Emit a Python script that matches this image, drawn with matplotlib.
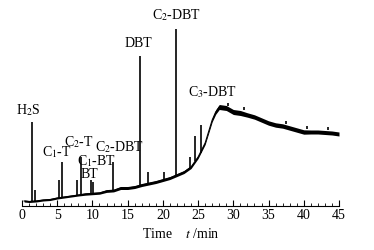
import numpy as np
import matplotlib
matplotlib.use("Agg")
import matplotlib.pyplot as plt

plt.rcParams['font.family'] = ['Liberation Serif', 'DejaVu Serif']
plt.rcParams['mathtext.fontset'] = 'stix'

# baseline of the chromatogram (time in min, signal in arbitrary units)
base_t = [0.3, 1.0, 2, 3, 4, 5, 6, 7, 8, 9, 10, 11, 12, 13, 14, 15, 16, 17, 18,
          19, 20, 21, 22, 23, 24, 25, 26, 27, 27.5, 28, 29, 30, 31, 32, 33, 34,
          35, 36, 37, 38, 39, 40, 41, 42, 43, 44, 45]
base_y = [5, 4.5, 5, 6, 6.5, 8, 9, 10, 11, 12, 12.5, 13, 15, 15.5, 18, 18, 19, 21,
          22.5, 24, 26, 28, 31, 34, 39, 49, 63, 86, 94, 99, 98, 94, 93, 91, 89, 86,
          83, 81, 80, 78, 76, 74, 74, 74, 73.5, 73, 72]
# half thickness of the noisy trace
band = [1.0, 1.0, 1.0, 1.0, 1.0, 1.0, 1.0, 1.0, 1.0, 1.2, 1.2, 1.2, 1.4, 1.4, 1.5,
        1.5, 1.5, 1.5, 1.5, 1.5, 1.5, 1.5, 1.5, 1.5, 1.5, 1.5, 1.5, 1.8, 2.2, 2.5,
        2.5, 2.5, 2.5, 2.2, 2.2, 2.2, 2.2, 2.2, 2.2, 2.2, 2.2, 2.2, 2.0, 2.0, 2.0,
        2.0, 2.0]

# peaks: retention time, baseline under the peak, peak top
peak_t = [1.4, 1.85, 5.3, 5.68, 7.77, 8.33, 9.85, 10.05, 12.9, 16.76, 17.85,
          20.2, 21.8, 23.8, 24.6, 25.4, 29.2, 31.5, 37.5, 40.5, 43.5]
peak_base = [4.5, 5, 8, 8.5, 10, 11, 12.5, 12.5, 15.5, 20.5, 22.5, 26, 30, 37,
             45, 53, 100, 96, 82, 77, 76]
peak_top = [84, 16, 26, 44, 26, 49, 26, 24, 44, 150, 34, 34, 177, 49, 70, 81,
            103, 99, 85, 80, 79]

labels = ["H$_2$S", "C$_1$-T", "C$_2$-T", "C$_2$-DBT", "C$_1$-BT", "BT", "DBT",
          "C$_2$-DBT", "C$_3$-DBT"]
label_x = [0.9, 5.0, 8.1, 13.8, 10.6, 9.5, 16.5, 22.0, 27.0]
label_y = [96, 54, 64, 59, 45, 32, 163, 191, 114]

fig = plt.figure(figsize=(3.74, 2.5), dpi=100)
ax = fig.add_axes([0.0588, 0.176, 0.8476, 0.72])

bt = np.array(base_t)
by = np.array(base_y)
bb = np.array(band)
ax.fill_between(bt, by - bb, by + bb, color='black', lw=0)
ax.plot(bt, by, color='black', lw=0.8)
ax.vlines(peak_t, peak_base, peak_top, color='black', lw=1.2)

for s, x, y in zip(labels, label_x, label_y):
    ax.text(x, y, s, fontsize=10, ha='center', va='center')

ax.set_xlim(0, 45)
ax.set_ylim(0, 180)
ax.set_xticks(range(0, 46, 5))
ax.set_xticks(range(0, 46), minor=True)
ax.tick_params(axis='x', which='major', direction='in', length=4, width=0.8,
               labelsize=10, pad=2)
ax.tick_params(axis='x', which='minor', direction='in', length=2, width=0.6)
ax.set_yticks([])
for side in ['left', 'right', 'top']:
    ax.spines[side].set_visible(False)
ax.spines['bottom'].set_linewidth(0.8)
ax.set_xlabel("Time    $t$ /min", fontsize=10, labelpad=4)

fig.savefig("out.png", dpi=100)
